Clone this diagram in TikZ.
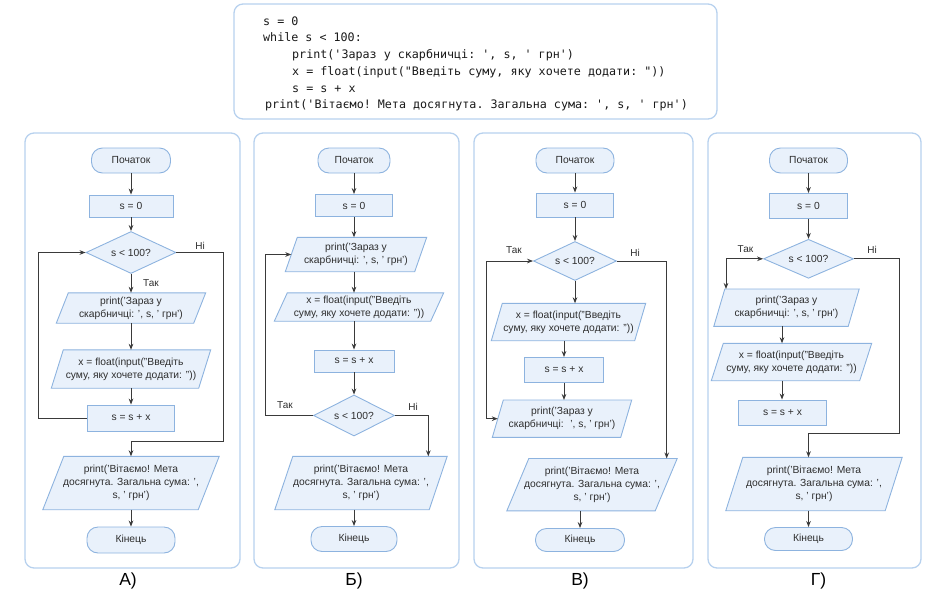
\documentclass[tikz,border=0pt]{standalone}
\usepackage{fontspec}
\setmainfont{Liberation Sans}
\setmonofont{DejaVu Sans Mono}
\usetikzlibrary{shapes.geometric,arrows.meta,backgrounds}
\definecolor{nodeb}{HTML}{8DB3DF}
\definecolor{nodef}{HTML}{E9F1FB}
\definecolor{panelb}{HTML}{B7D1EE}
\definecolor{ink}{HTML}{2E2E2E}
\definecolor{lineink}{HTML}{3A3A3A}
\tikzset{
  nfont/.style={font=\fontsize{10.3}{13}\selectfont, text=ink},
  term/.style={nfont, draw=nodeb, fill=nodef, rounded corners=11pt, inner sep=0pt, line width=0.9pt},
  proc/.style={nfont, draw=nodeb, fill=nodef, inner sep=0pt, line width=0.9pt},
  dec/.style={nfont, diamond, aspect=2, draw=nodeb, fill=nodef, inner sep=0pt, line width=0.9pt},
  ptext/.style={nfont, inner sep=0pt, align=center},
  pshape/.style={draw=nodeb, fill=nodef, line width=0.9pt},
  arr/.style={draw=lineink, line width=1pt, -{Stealth[length=6pt,width=4.6pt]}},
  lbl/.style={font=\fontsize{10}{12}\selectfont, text=ink, inner sep=0pt},
  panel/.style={draw=panelb, line width=1.3pt, rounded corners=9pt},
  code/.style={anchor=base west, inner sep=0pt, font=\ttfamily\fontsize{11.7}{13}\selectfont, text=black!90},
  plabel/.style={font=\fontsize{17.5}{20}\selectfont, text=black, inner sep=0pt},
}
\newcommand\pgram[7]{%
  \node[ptext, minimum width=#4pt, minimum height=#5pt] (#1) at (#2,#3) {#7};
  \begin{pgfonlayer}{background}
    \draw[pshape] ([xshift=#6pt*0.5]#1.north west) -- ([xshift=#6pt*0.5]#1.north east)
      -- ([xshift=-#6pt*0.5]#1.south east) -- ([xshift=-#6pt*0.5]#1.south west) -- cycle;
  \end{pgfonlayer}}
\begin{document}
\begin{tikzpicture}[x=1pt,y=-1pt]
\useasboundingbox (0,0) rectangle (940,600);

% ---------- code box ----------
\draw[panel] (234,4) rectangle (717,119);
\node[code] (c1) at (263,25) {s = 0};
\node[code] (c2) at (263,41.7) {while s < 100:};
\node[code] (c3) at (292,58.3) {print('Зараз у скарбничці: ', s, ' грн')};
\node[code] (c4) at (292,75) {x = float(input("Введіть суму, яку хочете додати: "))};
\node[code] (c5) at (292,92) {s = s + x};
\node[code] (c6) at (265,108.7) {print('Вітаємо! Мета досягнута. Загальна сума: ', s, ' грн')};

% ---------- panels ----------
\draw[panel] (25,133) rectangle (240,568);
\draw[panel] (254,133) rectangle (459,568);
\draw[panel] (474,133) rectangle (693,568);
\draw[panel] (708,133) rectangle (921,568);
\node[plabel] (LA) at (128,581) {А)};
\node[plabel] (LB) at (354,581) {Б)};
\node[plabel] (LV) at (580,581) {В)};
\node[plabel] (LG) at (818.5,581) {Г)};

% ---------- panel A ----------
\node[term, minimum width=79pt, minimum height=25pt] (aS) at (131,160.5) {Початок};
\node[proc, minimum width=84pt, minimum height=22pt] (a0) at (131,206) {s = 0};
\node[dec, minimum width=90pt, minimum height=42pt] (ad) at (131,252.5) {s < 100?};
\pgram{ap}{131}{308}{137}{30}{12}{print('Зараз у\\скарбничці: ', s, ' грн')}
\pgram{ax}{131}{369}{147}{38}{12}{x = float(input("Введіть\\суму, яку хочете додати: "))}
\node[proc, minimum width=87pt, minimum height=26pt] (as) at (131,418) {s = s + x};
\pgram{af}{131}{483}{155}{53}{21}{print('Вітаємо! Мета\\досягнута. Загальна сума: ',\\s, ' грн')}
\node[term, minimum width=88pt, minimum height=26pt] (ae) at (131,540) {Кінець};
\coordinate (aL) at (38,0);
\coordinate (aN) at (223,441.7);
\draw[arr] (aS) -- (a0);
\draw[arr] (a0) -- (ad);
\draw[arr] (ad) -- (ap);
\draw[arr] (ap) -- (ax);
\draw[arr] (ax) -- (as);
\draw[arr] (as.west) -- (as.west -| aL) -- (ad.west -| aL) -- (ad.west);
\draw[arr] (ad.east) -| (aN) -| (af.north);
\draw[arr] (af) -- (ae);
\node[lbl] (aT) at (151,283.5) {Так};
\node[lbl] (aH) at (200,246) {Ні};

% ---------- panel B ----------
\node[term, minimum width=72pt, minimum height=25pt] (bS) at (354,160.5) {Початок};
\node[proc, minimum width=77pt, minimum height=22pt] (b0) at (354,205.5) {s = 0};
\pgram{bp}{356}{254.5}{129}{34}{12}{print('Зараз у\\скарбничці: ', s, ' грн')}
\pgram{bx}{359}{307}{156}{28}{13}{x = float(input("Введіть\\суму, яку хочете додати: "))}
\node[proc, minimum width=80pt, minimum height=22pt] (bs) at (354,361) {s = s + x};
\node[dec, minimum width=81pt, minimum height=41pt] (bd) at (354,415.5) {s < 100?};
\pgram{bf}{361}{483}{154}{53}{18}{print('Вітаємо! Мета\\досягнута. Загальна сума: ',\\s, ' грн')}
\node[term, minimum width=86pt, minimum height=25pt] (be) at (354,539) {Кінець};
\coordinate (bL) at (265,0);
\coordinate (bN) at (428.3,0);
\draw[arr] (bS) -- (b0);
\draw[arr] (b0.south) -- (b0.south |- bp.north);
\draw[arr] (bp.south -| b0.south) -- (bx.north -| b0.south);
\draw[arr] (bx.south -| bs.north) -- (bs.north);
\draw[arr] (bs) -- (bd);
\draw[arr] (bd.west) -- (bd.west -| bL) -- (bp.west -| bL) -- (bp.west);
\draw[arr] (bd.east) -| (bN |- bf.north);
\draw[arr] (bf.south -| be.north) -- (be.north);
\node[lbl] (bT) at (285,405) {Так};
\node[lbl] (bH) at (413,406.7) {Ні};

% ---------- panel V ----------
\node[term, minimum width=78pt, minimum height=25pt] (vS) at (575,160.5) {Початок};
\node[proc, minimum width=77pt, minimum height=24pt] (v0) at (575,205) {s = 0};
\node[dec, minimum width=83pt, minimum height=39pt] (vd) at (575,261) {s < 100?};
\pgram{vx}{568.5}{322}{143}{37}{11}{x = float(input("Введіть\\суму, яку хочете додати: "))}
\node[proc, minimum width=79pt, minimum height=25pt] (vs) at (564,370) {s = s + x};
\pgram{vp}{562}{418.7}{128}{37}{11}{print('Зараз у\\скарбничці: ~', s, ' грн')}
\pgram{vf}{592}{484.7}{148}{52}{22}{print('Вітаємо! Мета\\досягнута. Загальна сума: ',\\s, ' грн')}
\node[term, minimum width=89pt, minimum height=23pt] (ve) at (580,540) {Кінець};
\coordinate (vL) at (486,0);
\coordinate (vN) at (666.7,0);
\draw[arr] (vS) -- (v0);
\draw[arr] (v0) -- (vd);
\draw[arr] (vd.south) -- (vd.south |- vx.north);
\draw[arr] (vx.south -| vs.north) -- (vs.north);
\draw[arr] (vs.south) -- (vs.south |- vp.north);
\draw[arr] (vd.west -| vL) -- (vd.west);
\draw[arr] (vd.west -| vL) -- (vp.west -| vL) -- (vp.west);
\draw[arr] (vd.east) -| (vN |- vf.north);
\draw[arr] (vf.south -| ve.north) -- (ve.north);
\node[lbl] (vT) at (514,250) {Так};
\node[lbl] (vH) at (635,253) {Ні};

% ---------- panel G ----------
\node[term, minimum width=78pt, minimum height=25pt] (gS) at (808.5,160.5) {Початок};
\node[proc, minimum width=78pt, minimum height=25pt] (g0) at (808.5,206) {s = 0};
\node[dec, minimum width=90pt, minimum height=39pt] (gd) at (808.5,258.8) {s < 100?};
\pgram{gp}{786.5}{307.7}{134}{37}{11}{print('Зараз у\\скарбничці: ', s, ' грн')}
\pgram{gx}{791.5}{362}{148}{37}{12}{x = float(input("Введіть\\суму, яку хочете додати: "))}
\node[proc, minimum width=88pt, minimum height=25pt] (gs) at (782.5,412.5) {s = s + x};
\pgram{gf}{814}{484}{159}{53}{17}{print('Вітаємо! Мета\\досягнута. Загальна сума: ',\\s, ' грн')}
\node[term, minimum width=88pt, minimum height=23pt] (ge) at (808.5,539) {Кінець};
\coordinate (gL) at (726,0);
\coordinate (gC) at (782,0);
\coordinate (gN) at (899,433.3);
\draw[arr] (gS) -- (g0);
\draw[arr] (g0) -- (gd);
\draw[arr] (gd.west -| gL) -- (gd.west);
\draw[arr] (gd.west -| gL) -- (gL |- gp.north);
\draw[arr] (gC |- gp.south) -- (gC |- gx.north);
\draw[arr] (gC |- gx.south) -- (gC |- gs.north);
\draw[arr] (gd.east) -| (gN) -| (ge.north |- gf.north);
\draw[arr] (gf.south -| ge.north) -- (ge.north);
\node[lbl] (gT) at (745.5,249.3) {Так};
\node[lbl] (gH) at (872,249.6) {Ні};
\end{tikzpicture}
\end{document}
